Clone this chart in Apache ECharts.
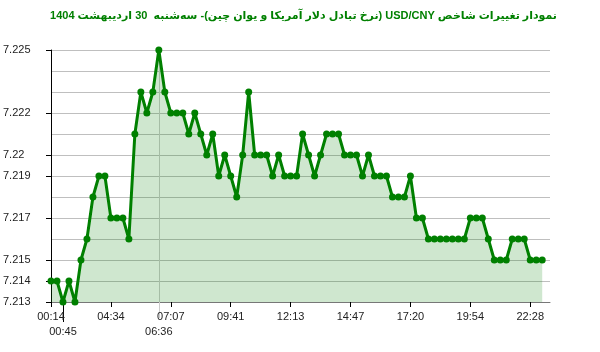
<!DOCTYPE html>
<html>
<head>
<meta charset="utf-8">
<script src="https://cdn.jsdelivr.net/npm/echarts@6/dist/echarts.min.js"></script>
<style>html,body{margin:0;padding:0;background:#fff}#c{width:600px;height:352px}</style>
</head>
<body>
<div id="c"></div>
<script>
const titleText = 'نمودار تغییرات شاخص USD/CNY (نرخ تبادل دلار آمریکا و یوان چین)- سه‌شنبه  30 اردیبهشت 1404';
const values = [
  7.214, 7.214, 7.213, 7.214, 7.213, 7.215, 7.216, 7.218, 7.219, 7.219,
  7.217, 7.217, 7.217, 7.216, 7.221, 7.223, 7.222, 7.223, 7.225, 7.223,
  7.222, 7.222, 7.222, 7.221, 7.222, 7.221, 7.220, 7.221, 7.219, 7.220,
  7.219, 7.218, 7.220, 7.223, 7.220, 7.220, 7.220, 7.219, 7.220, 7.219,
  7.219, 7.219, 7.221, 7.220, 7.219, 7.220, 7.221, 7.221, 7.221, 7.220,
  7.220, 7.220, 7.219, 7.220, 7.219, 7.219, 7.219, 7.218, 7.218, 7.218,
  7.219, 7.217, 7.217, 7.216, 7.216, 7.216, 7.216, 7.216, 7.216, 7.216,
  7.217, 7.217, 7.217, 7.216, 7.215, 7.215, 7.215, 7.216, 7.216, 7.216,
  7.215, 7.215, 7.215
];
const xTickIndex = [0, 10, 20, 30, 40, 50, 60, 70, 80];
const xTickLabels = ['00:14', '04:34', '07:07', '09:41', '12:13', '14:47', '17:20', '19:54', '22:28'];
const minTime = '00:45';
const maxTime = '06:36';
const yTickValues = [7.213, 7.214, 7.215, 7.217, 7.219, 7.22, 7.222, 7.225];
const yMin = 7.213, yMax = 7.225, yStep = 0.001;
const xMax = 83.3;

const minIdx = values.indexOf(Math.min(...values));
const maxIdx = values.indexOf(Math.max(...values));
const seriesData = values.map((v, i) => [i, v]);

const FONT = 'Liberation Sans, Arial, sans-serif';
const labelColor = '#222';

const chart = echarts.init(document.getElementById('c'), null, {renderer: 'canvas'});
chart.setOption({
  animation: false,
  title: {
    text: '\u202B' + titleText + '\u202C',
    right: 43, top: 10, padding: 0,
    textStyle: {color: '#008000', fontSize: 11, fontWeight: 'bold', fontFamily: 'Liberation Sans, DejaVu Sans, sans-serif'}
  },
  grid: {left: 50, right: 50, top: 50, bottom: 50, containLabel: false},
  xAxis: [
    {
      type: 'value', min: 0, max: xMax, position: 'bottom',
      axisLine: {show: true, onZero: false, lineStyle: {color: '#777', width: 1}},
      axisTick: {show: true, length: 5, customValues: xTickIndex, lineStyle: {color: '#000'}},
      axisLabel: {customValues: xTickIndex, margin: 9, fontSize: 11, fontFamily: FONT, color: labelColor,
        formatter: v => { const k = xTickIndex.indexOf(Math.round(v)); return k >= 0 ? xTickLabels[k] : ''; }},
      splitLine: {show: false}
    },
    {
      type: 'value', min: 0, max: xMax, position: 'bottom',
      axisLine: {show: false, onZero: false},
      axisTick: {show: true, length: 20, customValues: [minIdx], lineStyle: {color: '#000'}},
      axisLabel: {customValues: [minIdx], margin: 24, fontSize: 11, fontFamily: FONT, color: labelColor,
        formatter: () => minTime},
      splitLine: {show: false}
    },
    {
      type: 'value', min: 0, max: xMax, position: 'bottom',
      axisLine: {show: false, onZero: false},
      axisTick: {show: true, length: 16, customValues: [maxIdx], lineStyle: {color: '#ccc'}},
      axisLabel: {customValues: [maxIdx], margin: 24, fontSize: 11, fontFamily: FONT, color: labelColor,
        formatter: () => maxTime},
      splitLine: {show: false}
    }
  ],
  yAxis: [
    {
      type: 'value', min: yMin, max: yMax, interval: yStep, position: 'left',
      axisLine: {show: false}, axisTick: {show: false}, axisLabel: {show: false},
      splitLine: {show: true, lineStyle: {color: '#bfbfbf', width: 1}}
    },
    {
      type: 'value', min: yMin, max: yMax, interval: yStep, position: 'left',
      axisLine: {show: true, onZero: false, lineStyle: {color: '#000', width: 1}},
      axisTick: {show: true, length: 5, customValues: yTickValues, lineStyle: {color: '#000'}},
      axisLabel: {customValues: yTickValues, align: 'left', margin: 48, fontSize: 11, fontFamily: FONT,
        color: labelColor, padding: [0, 0, 7, 0]},
      splitLine: {show: false}
    }
  ],
  series: [{
    type: 'line',
    xAxisIndex: 0, yAxisIndex: 0,
    data: seriesData,
    showAllSymbol: true,
    symbol: 'circle', symbolSize: 7,
    lineStyle: {color: '#008000', width: 3},
    itemStyle: {color: '#008000', borderWidth: 0},
    areaStyle: {color: '#008000', opacity: 0.19},
    markLine: {
      silent: true, symbol: 'none', z: 1,
      label: {show: false},
      lineStyle: {color: '#ccc', type: 'solid', width: 1},
      data: [{xAxis: maxIdx}]
    }
  }]
});
</script>
</body>
</html>
